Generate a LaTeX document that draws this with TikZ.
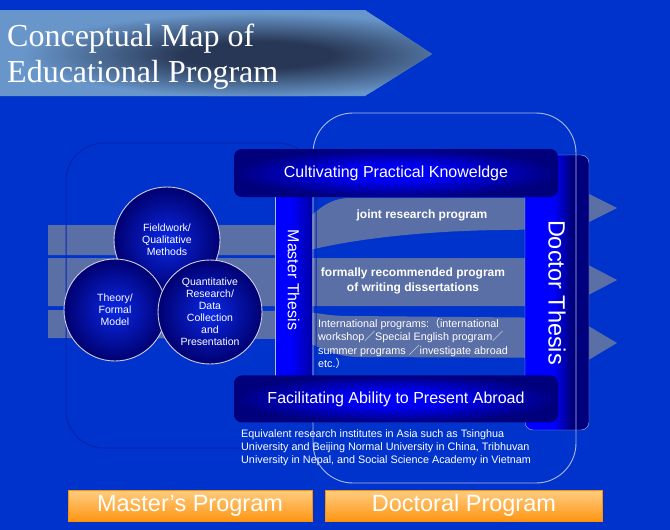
\documentclass[tikz,border=0pt]{standalone}
\usepackage{fontspec}
\setmainfont{Liberation Sans}
\newfontfamily\titlefont{Liberation Serif}
\newfontfamily\cjkfont{Noto Sans CJK JP}
\usepackage{xcolor}
\usepackage{tikz}
\usetikzlibrary{shapes, positioning, calc}

\definecolor{bgblue}{RGB}{0,51,204}
\definecolor{bandgray}{RGB}{90,111,166}
\definecolor{bannerblue}{RGB}{104,150,202}
\definecolor{bannerdark}{RGB}{40,55,85}
\definecolor{navy}{RGB}{0,0,125}
\definecolor{brightblue}{RGB}{0,0,255}
\definecolor{glowmid}{RGB}{0,0,238}
\definecolor{midblue}{RGB}{0,0,165}
\definecolor{ballin}{RGB}{10,40,230}
\definecolor{ballout}{RGB}{0,0,112}
\definecolor{ballline}{RGB}{205,205,235}
\definecolor{linelight}{RGB}{175,185,228}
\definecolor{masterline}{RGB}{10,35,178}
\definecolor{orangetop}{RGB}{255,205,130}
\definecolor{orangebot}{RGB}{255,150,20}
\definecolor{orangeline}{RGB}{255,145,0}

\pgfdeclareradialshading{glow}{\pgfpoint{0bp}{0bp}}{%
  color(0bp)=(brightblue); color(9bp)=(glowmid); color(25bp)=(navy); color(50bp)=(navy)}
\pgfdeclareradialshading{bannerglow}{\pgfpoint{0bp}{0bp}}{%
  color(0bp)=(bannerdark); color(8bp)=(bannerdark); color(25bp)=(bannerblue); color(50bp)=(bannerblue)}
\pgfdeclarehorizontalshading{docshade}{100bp}{%
  color(0bp)=(brightblue); color(47bp)=(brightblue); color(61bp)=(navy); color(100bp)=(navy)}
\pgfdeclarehorizontalshading{mastershade}{100bp}{%
  color(0bp)=(brightblue); color(46bp)=(brightblue); color(75bp)=(midblue); color(100bp)=(midblue)}

\begin{document}
\begin{tikzpicture}[
    x=1pt, y=-1pt,
    band/.style={
        fill=bandgray
    },
    ball/.style={
        circle,
        draw=ballline,
        line width=0.9pt,
        inner color=ballin,
        outer color=ballout,
        inner sep=0pt,
        align=center,
        text=white,
        font=\fontsize{10.5}{12}\selectfont
    },
    bar/.style={
        rectangle,
        rounded corners=8pt,
        shading=glow,
        minimum width=324pt,
        minimum height=48pt,
        inner sep=0pt,
        text=white,
        font=\fontsize{16}{19}\selectfont
    },
    pillar/.style={
        rectangle,
        inner sep=0pt
    },
    note/.style={
        text=white,
        inner sep=0pt,
        align=left,
        font=\fontsize{10.8}{13.4}\selectfont
    },
    heading/.style={
        text=white,
        inner sep=0pt,
        align=center,
        font=\bfseries\fontsize{12}{15}\selectfont
    },
    program/.style={
        rectangle,
        draw=orangeline,
        top color=orangetop,
        bottom color=orangebot,
        minimum height=31pt,
        inner sep=0pt,
        text=white,
        font=\fontsize{23.5}{26}\selectfont
    }
]
\useasboundingbox (0,0) rectangle (670,530);
\fill[bgblue] (0,0) rectangle (670,530);

% Title banner
\fill[bannerblue] (0,10) -- (365,10) -- (432,54) -- (365,96) -- (0,96) -- cycle;
\begin{scope}
    \clip (0,10) -- (365,10) -- (432,54) -- (365,96) -- (0,96) -- cycle;
    \shade[shading=bannerglow] (258,55) ellipse [x radius=235pt, y radius=42pt];
\end{scope}
\node[text=white, inner sep=0pt, anchor=base west, font=\titlefont\fontsize{32}{36}\selectfont] (title) at (7,46) {Conceptual Map of};
\node[text=white, inner sep=0pt, anchor=base west, font=\titlefont\fontsize{32}{36}\selectfont] (subtitle) at (7,82) {Educational Program};

% Bands
\fill[band] (48,225) -- (288,225) .. controls (312,225) and (318,198) .. (350,198) -- (575,198)
    -- (575,187) -- (617,208) -- (575,229) -- (500,230)
    .. controls (420,231) and (340,240) .. (292,255) -- (48,255) -- cycle;
\fill[band] (48,258) -- (575,258) -- (617,280) -- (575,302) -- (575,306) -- (48,306) -- cycle;
\fill[band] (48,310) -- (290,311) .. controls (315,311) and (322,316) .. (350,316) -- (580,318)
    -- (580,321) -- (617,343) -- (580,365) -- (580,358) -- (360,357)
    .. controls (325,357) and (315,340) .. (290,339) -- (48,338) -- cycle;

% Master frame
\draw[masterline, line width=1pt, rounded corners=38pt] (66,143) rectangle (316,448);

% Nodes
\node[ball, minimum size=106pt] (field) at (167,240) {Fieldwork/\\Qualitative\\Methods};
\node[ball, minimum size=102pt] (theory) at (115,310) {Theory/\\Formal\\Model};
\node[ball, minimum size=104pt] (quant) at (210,312) {Quantitative\\Research/\\Data\\Collection\\and\\Presentation};

\node[pillar, shading=mastershade, minimum width=37pt, minimum height=210pt] (masterbar) at (293.5,286) {};
\draw[linelight] (masterbar.north west) -- (masterbar.south west);
\node[pillar, shading=docshade, draw=linelight, rounded corners=8pt, minimum width=64pt, minimum height=275pt] (docbar) at (557,292.5) {};

% Doctoral frame
\draw[linelight, line width=0.9pt, rounded corners=40pt] (313,113) rectangle (576,483);

\node[bar] (cultivate) at (396,173) {Cultivating Practical Knoweldge};
\node[bar, below=178pt of cultivate, minimum height=47pt] (facilitate) {Facilitating Ability to Present Abroad};

\node[text=white, rotate=-90, inner sep=0pt, font=\fontsize{16}{19}\selectfont] (mthesis) at (293.5,280) {Master Thesis};
\node[text=white, rotate=-90, inner sep=0pt, font=\fontsize{23.5}{26}\selectfont] (dthesis) at (557,292.5) {Doctor Thesis};

\node[heading] (joint) at (422,215) {joint research program};
\node[heading] (formal) at (413,281) {formally recommended program\\of writing dissertations};
\node[note, anchor=north west] (intl) at (318,318) {International programs:{\cjkfont （}international\\workshop{\cjkfont ／}Special English program{\cjkfont ／}\\summer programs {\cjkfont ／}investigate abroad\\etc.{\cjkfont ）}};
\node[note, anchor=north west] (institutes) at (241,429) {Equivalent research institutes in Asia such as Tsinghua\\University and Beijing Normal University in China, Tribhuvan\\University in Nepal, and Social Science Academy in Vietnam};

\node[program, minimum width=244pt] (masterprog) at (190,505.5) {Master’s Program};
\node[program, minimum width=277pt, right=13pt of masterprog] (docprog) {Doctoral Program};

\end{tikzpicture}
\end{document}
